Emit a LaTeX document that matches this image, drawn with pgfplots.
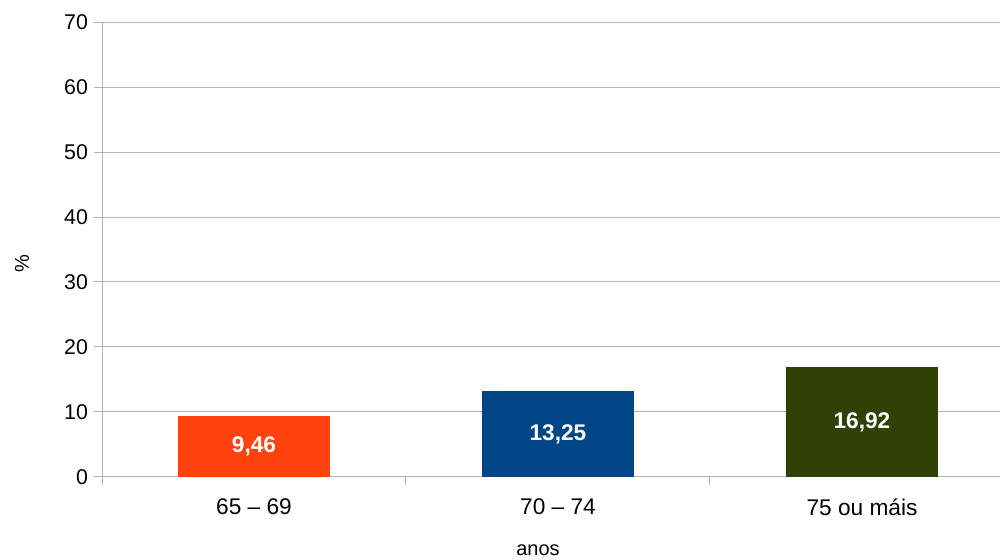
\documentclass[border=0pt]{standalone}
\usepackage{pgfplots}
\pgfplotsset{compat=1.18}
\usepackage{fontspec}
\setmainfont{Liberation Sans}
\definecolor{c1}{HTML}{FF420E}
\definecolor{c2}{HTML}{004586}
\definecolor{c3}{HTML}{314004}
\definecolor{gridc}{HTML}{B3B3B3}
\begin{document}
\begin{tikzpicture}[x=0.75pt,y=0.75pt]
\path[use as bounding box] (0,0) rectangle (1000,560);
\begin{axis}[
  at={(76.5pt,62.25pt)}, anchor=south west,
  scale only axis, width=673.5pt, height=341.25pt,
  xmin=-0.5, xmax=2.454, ymin=0, ymax=70,
  ytick={0,10,...,70},
  xtick={-0.5,0.5,1.5}, xticklabels={},
  extra x ticks={0,1,2}, extra x tick labels={65 – 69,70 – 74,75 ou máis},
  extra x tick style={major tick length=0pt, grid=none,
    tick label style={font=\fontsize{17}{19}\selectfont, black, yshift=-12.5pt}},
  ymajorgrids, grid style={gridc, line width=0.75pt},
  axis x line*=bottom, axis y line*=left,
  axis line style={gridc, line width=0.75pt, -},
  tick align=outside, major tick length=6pt,
  tick style={gridc, line width=0.75pt},
  tick label style={font=\fontsize{16}{18}\selectfont, black},
  /pgf/number format/assume math mode=true,
  yticklabel style={xshift=-1pt},
  clip=false,
]
\addplot[ybar, bar width=0.503, fill=c1, draw=none] coordinates {(0,9.46)};
\addplot[ybar, bar width=0.503, fill=c2, draw=none] coordinates {(1,13.25)};
\addplot[ybar, bar width=0.503, fill=c3, draw=none] coordinates {(2,16.92)};
\node[white, font=\fontsize{17}{19}\selectfont\bfseries] at (axis cs:0,4.73) {9,46};
\node[white, font=\fontsize{17}{19}\selectfont\bfseries] at (axis cs:1,6.625) {13,25};
\node[white, font=\fontsize{17}{19}\selectfont\bfseries] at (axis cs:2,8.46) {16,92};
\end{axis}
\node[font=\fontsize{15}{18}\selectfont] at (538,10) {anos};
\node[font=\fontsize{15}{18}\selectfont, rotate=90] at (22,296) {\%};
\end{tikzpicture}
\end{document}
